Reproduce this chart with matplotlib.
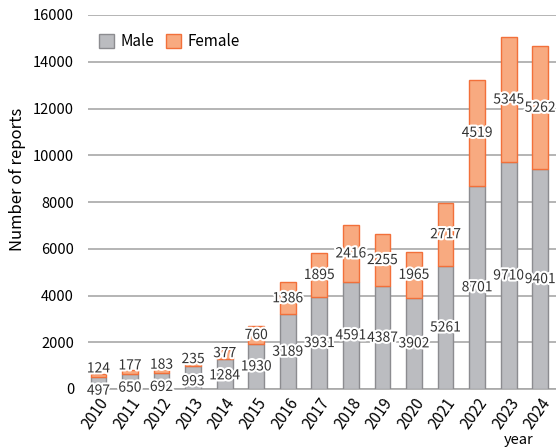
import numpy as np
import matplotlib
matplotlib.use('Agg')
import matplotlib.pyplot as plt
import matplotlib.patheffects as pe

plt.rcParams['font.family'] = ['Noto Sans CJK KR', 'DejaVu Sans']

# data
years = ['2010', '2011', '2012', '2013', '2014', '2015', '2016', '2017',
         '2018', '2019', '2020', '2021', '2022', '2023', '2024']
male = [497, 650, 692, 993, 1284, 1930, 3189, 3931, 4591, 4387, 3902, 5261, 8701, 9710, 9401]
female = [124, 177, 183, 235, 377, 760, 1386, 1895, 2416, 2255, 1965, 2717, 4519, 5345, 5262]

male_col = '#bbbcc0'
male_edge = '#8c8c90'
fem_col = '#f8aa80'
fem_edge = '#f2703a'

fig = plt.figure(figsize=(5.56, 4.47), dpi=100)
ax = fig.add_axes([88 / 556, 58 / 447, 468 / 556, 374 / 447])

x = np.arange(len(years))
m = np.array(male)
f = np.array(female)
w = 0.5

ax.bar(x, m, width=w, color=male_col, edgecolor=male_edge, linewidth=1, label='Male', zorder=3)
ax.bar(x, f, width=w, bottom=m, color=fem_col, edgecolor=fem_edge, linewidth=1, label='Female', zorder=3)

# value labels, centered in each segment, pushed apart when too close
min_gap = 950
stroke = [pe.withStroke(linewidth=3, foreground='white')]
for i in range(len(years)):
    ym = m[i] / 2
    yf = m[i] + f[i] / 2
    if yf - ym < min_gap:
        mid = (ym + yf) / 2
        ym = mid - min_gap / 2
        yf = mid + min_gap / 2
    ax.text(x[i], ym, str(m[i]), ha='center', va='center', fontsize=10,
            color='#333333', path_effects=stroke, zorder=5)
    ax.text(x[i], yf, str(f[i]), ha='center', va='center', fontsize=10,
            color='#333333', path_effects=stroke, zorder=5)

ax.set_xlim(-0.33, 14.5)
ax.set_ylim(0, 16000)
ax.set_yticks(np.arange(0, 16001, 2000))
ax.set_xticks(x)
ax.set_xticklabels(years, rotation=55, ha='right', rotation_mode='anchor', fontsize=11)
ax.tick_params(axis='y', labelsize=10.5, length=0, pad=10)
ax.tick_params(axis='x', length=0, pad=4)
ax.grid(axis='y', color='#a8a8a8', linewidth=1.2, zorder=0)
for s in ['top', 'right', 'left']:
    ax.spines[s].set_visible(False)
ax.spines['bottom'].set_color('#a8a8a8')
ax.spines['bottom'].set_linewidth(1.2)

fig.text(18 / 556, 1 - 179 / 447, 'Number of reports', rotation=90,
         ha='center', va='center', fontsize=12)
fig.text(519 / 556, 1 - 440 / 447, 'year', ha='center', va='center', fontsize=10.5)

ax.legend(loc='upper left', bbox_to_anchor=(0.0, 0.98), ncol=2, frameon=False,
          fontsize=11, handlelength=1.0, handleheight=1.0, handletextpad=0.4,
          columnspacing=0.8, borderaxespad=0.3)

fig.savefig('out.png', dpi=100)
